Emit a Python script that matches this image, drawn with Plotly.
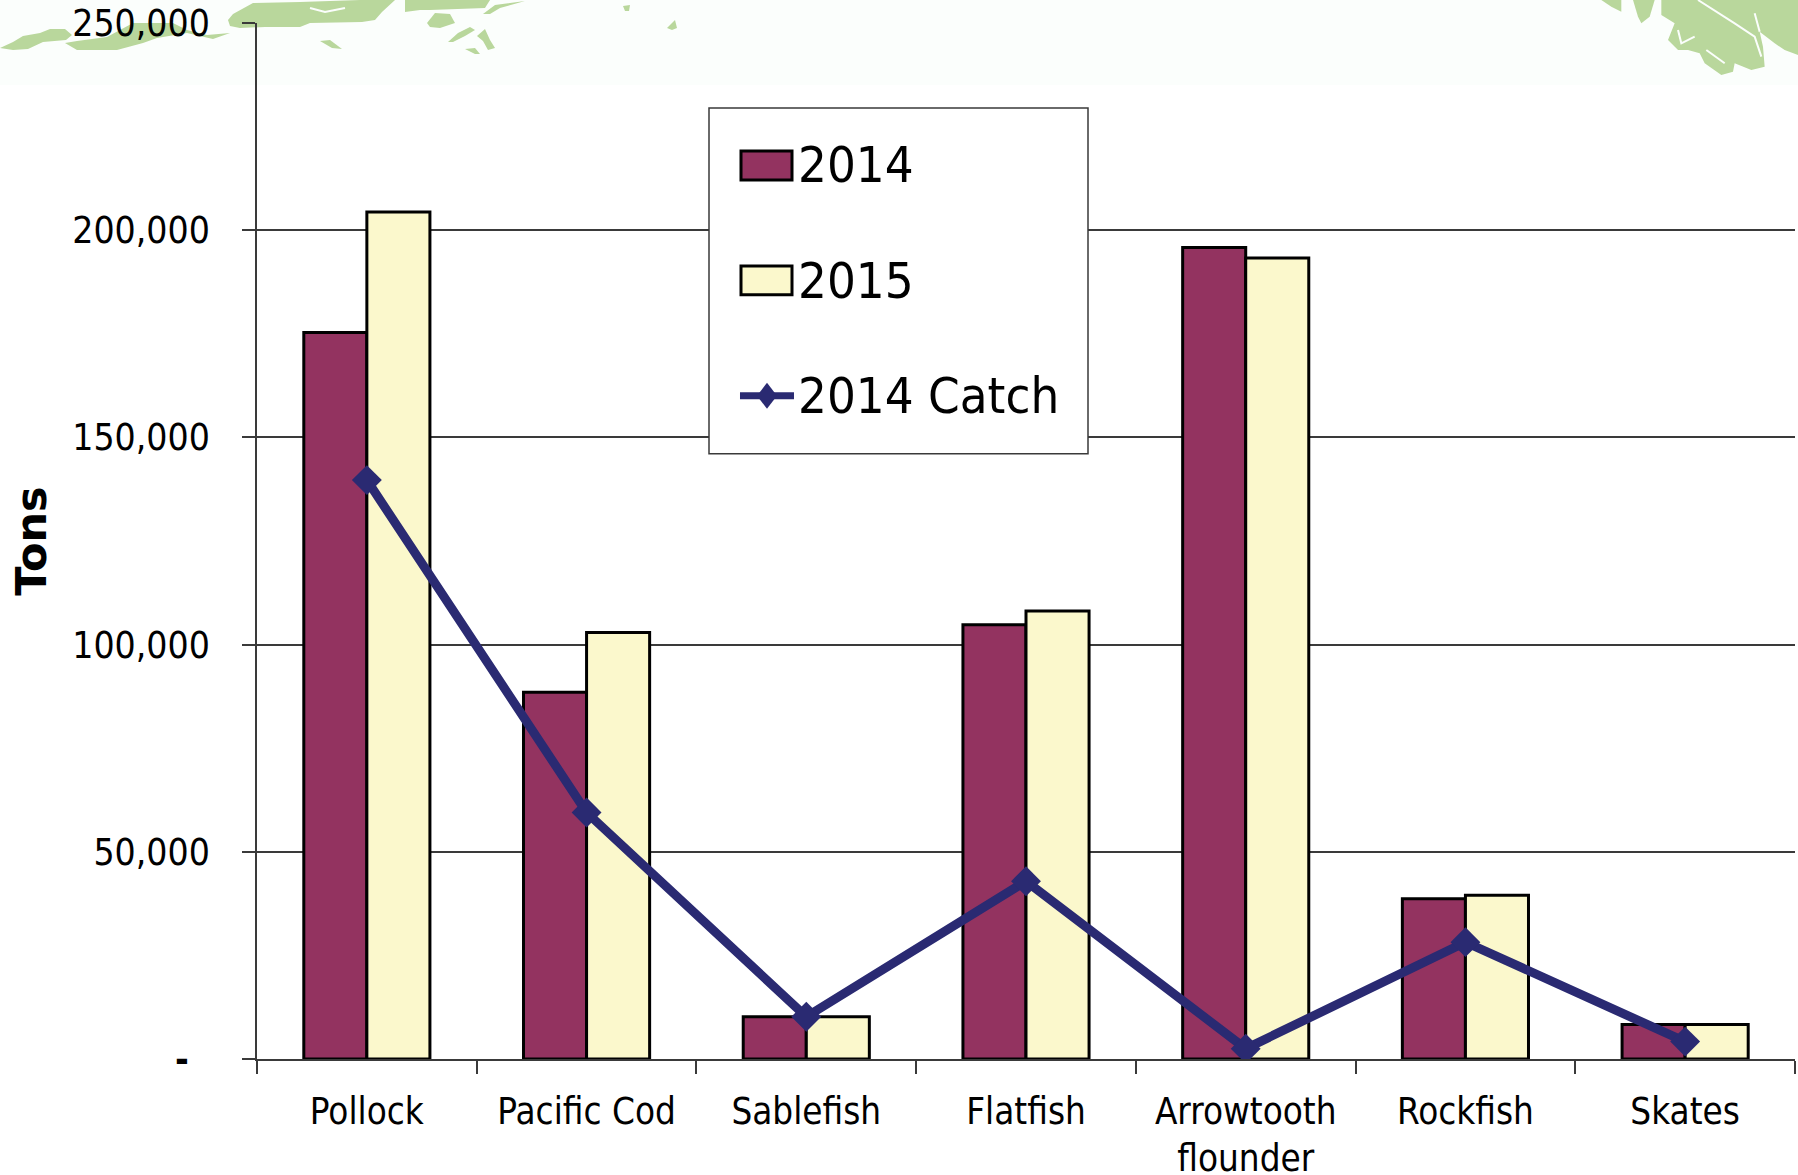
import plotly.graph_objects as go

categories = ["Pollock", "Pacific Cod", "Sablefish", "Flatfish", "Arrowtooth<br>flounder", "Rockfish", "Skates"]
tons_2014 = [175300, 88500, 10200, 104800, 195800, 38700, 8300]
tons_2015 = [204400, 102900, 10200, 108100, 193300, 39500, 8300]
catch_2014 = [139700, 59500, 10200, 42900, 2500, 28200, 4200]
y_ticks = [0, 50000, 100000, 150000, 200000, 250000]
y_tick_labels = ["<b>-</b>\u00a0\u00a0", "50,000", "100,000", "150,000", "200,000", "250,000"]
legend_labels = ["2014", "2015", "2014 Catch"]

W, H = 1798, 1175
L, R, T, B = 257, 1795, 23, 1059.5
FONT = "DejaVu Sans Condensed, DejaVu Sans"
PURPLE, CREAM, NAVY, GRID, GREEN, BAND = "#933360", "#FBF8CC", "#2A2A72", "#3A3A3A", "#B9D79C", "#FBFEFC"


def px(x):
    return (x - L) / (R - L)


def py(y):
    return (B - y) / (B - T)


def path(points, close=True):
    s = "M" + " L".join(f"{px(x):.5f},{py(y):.5f}" for x, y in points)
    return s + (" Z" if close else "")


def rect(x0, y0, x1, y1, fill, line=None, width=0, layer="below"):
    return dict(type="rect", xref="paper", yref="paper", x0=px(x0), x1=px(x1), y0=py(y1), y1=py(y0),
                fillcolor=fill, line=dict(color=line or fill, width=width), layer=layer)


def land(points):
    return dict(type="path", xref="paper", yref="paper", path=path(points), fillcolor=GREEN,
                line=dict(width=0), layer="below")


def zoomed(ox, pts):
    return [(ox + a / 3, b / 3) for a, b in pts]


islands = [
    [(0, 48), (13, 42), (23, 36), (40, 33), (50, 29), (65, 29), (72, 35), (66, 40), (43, 42), (28, 49), (13, 50)],
    [(65, 43), (77, 41), (107, 37), (133, 23), (173, 23), (187, 30), (207, 35), (230, 33), (213, 39), (187, 33),
     (157, 38), (143, 43), (117, 50), (77, 50)],
    [(228, 20), (233, 14), (253, 3), (300, 2), (360, 0), (395, 0), (382, 12), (375, 20), (362, 22), (310, 23),
     (300, 27), (265, 27), (240, 28), (230, 26)],
    [(320, 41), (330, 40), (342, 49), (332, 48)],
    [(405, 0), (490, 0), (485, 8), (430, 10), (420, 10), (405, 12)],
    [(427, 23), (435, 13), (450, 14), (455, 23), (440, 28), (430, 27)],
    [(483, 14), (495, 5), (510, 3), (525, 1), (500, 8), (490, 14)],
    [(448, 42), (458, 33), (470, 27), (475, 30), (465, 36), (453, 42)],
    [(477, 36), (485, 29), (490, 40), (495, 48), (488, 50), (483, 41)],
    [(465, 49), (475, 48), (480, 54), (475, 54)],
    [(667, 28), (675, 20), (677, 28), (672, 30)],
    [(623, 6), (630, 5), (629, 11), (625, 11)],
    zoomed(1578, [(70, 0), (130, 0), (130, 35), (100, 20)]),
    zoomed(1578, [(165, 0), (230, 0), (215, 50), (190, 70), (180, 50)]),
    zoomed(1578, [(250, 0), (660, 0), (660, 165), (620, 150), (590, 130), (545, 95), (555, 140), (560, 200),
                  (520, 210), (470, 190), (465, 215), (430, 225), (380, 190), (365, 160), (330, 150), (300, 150),
                  (270, 120), (290, 70), (250, 45)]),
]
channels = [
    zoomed(1578, [(360, 0), (470, 70), (530, 110), (550, 170)]),
    zoomed(1578, [(530, 40), (545, 95)]),
    zoomed(1578, [(300, 90), (310, 130), (350, 110)]),
    zoomed(1578, [(385, 150), (440, 190)]),
    [(310, 8), (325, 12), (345, 8)],
]

shapes = [rect(0, 0, W, 85, BAND)]
shapes += [land(p) for p in islands]
shapes += [dict(type="path", xref="paper", yref="paper", path=path(c, close=False),
                line=dict(color=BAND, width=2), layer="below") for c in channels]

# legend panel
shapes += [
    rect(709, 108, 1088, 454, "white", GRID, 1.5, "above"),
    rect(741, 151, 792, 180, PURPLE, "black", 3, "above"),
    rect(741, 266, 792, 295, CREAM, "black", 3, "above"),
    dict(type="path", xref="paper", yref="paper", path=path([(740, 396), (794, 396)], close=False),
         line=dict(color=NAVY, width=7), layer="above"),
    dict(type="path", xref="paper", yref="paper", path=path([(767, 383), (777, 396), (767, 409), (757, 396)]),
         fillcolor=NAVY, line=dict(width=0), layer="above"),
]

annotations = [
    dict(xref="paper", yref="paper", x=px(796), y=py(yc), text=t, showarrow=False, xanchor="left",
         yanchor="middle", font=dict(family=FONT, size=50.5, color="black"))
    for t, yc in zip(legend_labels, [165, 281, 396])
]

fig = go.Figure()
fig.add_bar(name=legend_labels[0], x=categories, y=tons_2014, marker=dict(color=PURPLE, line=dict(color="black", width=3)))
fig.add_bar(name=legend_labels[1], x=categories, y=tons_2015, marker=dict(color=CREAM, line=dict(color="black", width=3)))
fig.add_scatter(name=legend_labels[2], x=categories, y=catch_2014, mode="lines+markers",
                line=dict(color=NAVY, width=9), marker=dict(symbol="diamond", size=23, color=NAVY))

fig.update_layout(
    width=W, height=H, autosize=False,
    margin=dict(l=L, r=W - R, t=T, b=H - B, pad=0),
    paper_bgcolor="white", plot_bgcolor="rgba(0,0,0,0)",
    barmode="group", bargap=0.426, bargroupgap=0,
    showlegend=False,
    shapes=shapes, annotations=annotations,
    font=dict(family=FONT, size=36, color="black"),
)
fig.update_xaxes(type="category", range=[-0.5, 6.5], showline=True, linecolor=GRID, linewidth=1.5, automargin=False,
                 showgrid=False, ticks="outside", ticklen=13, tickwidth=1.5, tickcolor=GRID,
                 tickson="boundaries", ticklabelstandoff=19, tickangle=0,
                 tickfont=dict(family=FONT, size=36.5, color="black"))
fig.update_yaxes(range=[0, 250000], tickmode="array", tickvals=y_ticks, ticktext=y_tick_labels, automargin=False,
                 showline=True, linecolor=GRID, linewidth=1.5, showgrid=True, gridcolor=GRID, gridwidth=1.5,
                 zeroline=False, ticks="outside", ticklen=13, tickwidth=1.5, tickcolor=GRID,
                 ticklabelstandoff=25, tickfont=dict(family=FONT, size=37, color="black"),
                 title=dict(text="<b>Tons</b>", standoff=12,
                            font=dict(family="DejaVu Sans", size=43, color="black")))

fig.write_html("out.html", config=dict(displayModeBar=False), post_script="document.body.style.margin='0';")
